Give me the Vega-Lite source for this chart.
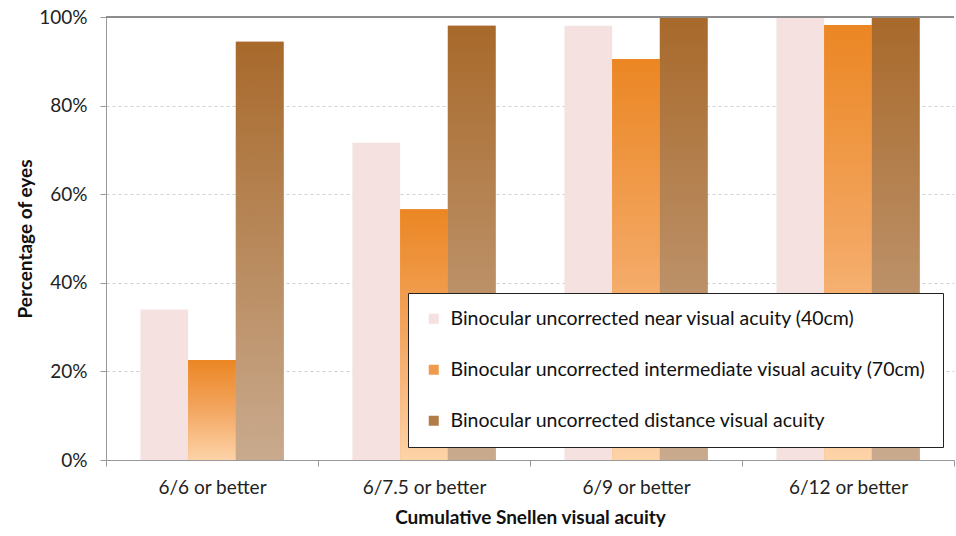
{
  "$schema": "https://vega.github.io/schema/vega-lite/v6.json",
  "autosize": "none",
  "width": 848,
  "height": 443,
  "padding": {"left": 106, "top": 17, "right": 2, "bottom": 76},
  "background": "white",
  "config": {
    "view": {"stroke": null},
    "font": "Lato",
    "axis": {"labelFont": "Lato", "titleFont": "Lato", "labelColor": "#222", "titleColor": "#111"}
  },
  "data": {
    "values": [
      {"acuity": "6/6 or better", "series": "Binocular uncorrected near visual acuity (40cm)", "pct": 34},
      {"acuity": "6/6 or better", "series": "Binocular uncorrected intermediate visual acuity (70cm)", "pct": 22.6},
      {"acuity": "6/6 or better", "series": "Binocular uncorrected distance visual acuity", "pct": 94.4},
      {"acuity": "6/7.5 or better", "series": "Binocular uncorrected near visual acuity (40cm)", "pct": 71.6},
      {"acuity": "6/7.5 or better", "series": "Binocular uncorrected intermediate visual acuity (70cm)", "pct": 56.6},
      {"acuity": "6/7.5 or better", "series": "Binocular uncorrected distance visual acuity", "pct": 98},
      {"acuity": "6/9 or better", "series": "Binocular uncorrected near visual acuity (40cm)", "pct": 98},
      {"acuity": "6/9 or better", "series": "Binocular uncorrected intermediate visual acuity (70cm)", "pct": 90.5},
      {"acuity": "6/9 or better", "series": "Binocular uncorrected distance visual acuity", "pct": 100},
      {"acuity": "6/12 or better", "series": "Binocular uncorrected near visual acuity (40cm)", "pct": 100},
      {"acuity": "6/12 or better", "series": "Binocular uncorrected intermediate visual acuity (70cm)", "pct": 98.2},
      {"acuity": "6/12 or better", "series": "Binocular uncorrected distance visual acuity", "pct": 100}
    ]
  },
  "layer": [
    {
      "encoding": {
        "x": {
          "field": "acuity",
          "type": "nominal",
          "sort": ["6/6 or better", "6/7.5 or better", "6/9 or better", "6/12 or better"],
          "scale": {"domain": ["6/6 or better", "6/7.5 or better", "6/9 or better", "6/12 or better"], "paddingInner": 0, "paddingOuter": 0},
          "axis": {
            "title": "Cumulative Snellen visual acuity",
            "titleFontSize": 19,
            "titleFontWeight": "bold",
            "titlePadding": 11,
            "labelAngle": 0,
            "labelFontSize": 19,
            "labelPadding": 12,
            "tickBand": "extent",
            "tickSize": 6,
            "tickColor": "#999",
            "domainColor": "#999",
            "grid": false
          }
        },
        "xOffset": {
          "field": "series",
          "type": "nominal",
          "scale": {"domain": ["Binocular uncorrected near visual acuity (40cm)", "Binocular uncorrected intermediate visual acuity (70cm)", "Binocular uncorrected distance visual acuity"], "paddingInner": 0, "paddingOuter": 0.722}
        },
        "y": {
          "field": "pct",
          "type": "quantitative",
          "scale": {"domain": [0, 100]},
          "axis": {
            "title": "Percentage of eyes",
            "titleFontSize": 19,
            "titleFontWeight": "bold",
            "titlePadding": 3,
            "values": [0, 20, 40, 60, 80, 100],
            "labelExpr": "datum.value + '%'",
            "labelFontSize": 19,
            "labelPadding": 13,
            "tickSize": 6,
            "tickColor": "#999",
            "domainColor": "#999",
            "gridColor": "#cfcfcf",
            "gridDash": [3, 3],
            "gridWidth": 1
          }
        }
      },
      "layer": [
        {
          "mark": {"type": "bar"},
          "encoding": {
            "color": {
              "field": "series",
              "type": "nominal",
              "scale": {
                "domain": ["Binocular uncorrected near visual acuity (40cm)", "Binocular uncorrected intermediate visual acuity (70cm)", "Binocular uncorrected distance visual acuity"],
                "range": ["#f4e1e0", "#f09a4c", "#b27c49"]
              },
              "legend": {
                "title": null,
                "orient": "none",
                "legendX": 302,
                "legendY": 276,
                "direction": "vertical",
                "strokeColor": "#222",
                "fillColor": "white",
                "padding": 16,
                "rowPadding": 30,
                "symbolType": "square",
                "symbolSize": 100,
                "symbolStrokeWidth": 0,
                "symbolOpacity": 1,
                "labelFontSize": 19.5,
                "labelFont": "Lato",
                "labelColor": "#111",
                "labelLimit": 700,
                "labelOffset": 7
              }
            }
          }
        },
        {
          "transform": [{"filter": "datum.series === 'Binocular uncorrected intermediate visual acuity (70cm)'"}],
          "mark": {
            "type": "bar",
            "fill": {"gradient": "linear", "x1": 0, "y1": 0, "x2": 0, "y2": 1, "stops": [{"offset": 0, "color": "#eb8623"}, {"offset": 0.5, "color": "#f3a660"}, {"offset": 1, "color": "#fdd3a8"}]}
          }
        },
        {
          "transform": [{"filter": "datum.series === 'Binocular uncorrected distance visual acuity'"}],
          "mark": {
            "type": "bar",
            "fill": {"gradient": "linear", "x1": 0, "y1": 0, "x2": 0, "y2": 1, "stops": [{"offset": 0, "color": "#a8692b"}, {"offset": 1, "color": "#c9aa8e"}]}
          }
        }
      ]
    },
    {
      "mark": {"type": "rule", "color": "#8c8c8c", "strokeWidth": 1},
      "encoding": {"y": {"datum": 100, "type": "quantitative"}}
    }
  ]
}
